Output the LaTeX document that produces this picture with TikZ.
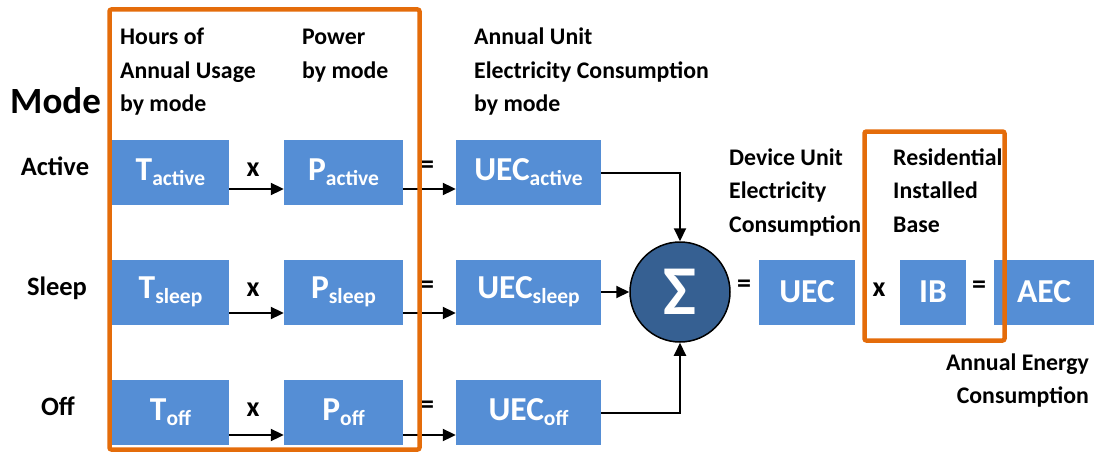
\documentclass[tikz,border=0pt]{standalone}
\usepackage{fontspec}
\setmainfont{Carlito}
\usetikzlibrary{arrows.meta}
\definecolor{boxblue}{RGB}{85,142,213}
\definecolor{sigblue}{RGB}{54,96,146}
\definecolor{frameorange}{RGB}{228,108,10}
\newcommand\mysub[1]{\raisebox{-5pt}{\fontsize{21.5}{21.5}\selectfont #1}}
\begin{document}
\begin{tikzpicture}[x=1pt,y=-1pt,
  box/.style={fill=boxblue, draw=none, text=white, inner sep=0,
    font=\bfseries\fontsize{33.5}{33.5}\selectfont, minimum height=65pt},
  arr/.style={-{Triangle[length=13pt,width=12pt]}, line width=2pt},
  lab/.style={font=\bfseries\fontsize{23.8}{23.8}\selectfont, inner sep=0, anchor=base west},
  labr/.style={lab, anchor=base east},
  modelab/.style={font=\bfseries\fontsize{26.5}{26.5}\selectfont, inner sep=0, anchor=base},
  op/.style={font=\bfseries\fontsize{28}{28}\selectfont, inner sep=0},
  frame/.style={draw=frameorange, line width=4.5pt, rounded corners=2pt}]
\useasboundingbox (0,0) rectangle (1094,452);
% headings
\node[font=\bfseries\fontsize{37}{37}\selectfont, inner sep=0, anchor=base west] (mode) at (10,113) {Mode};
\node[modelab] (lact) at (55,175) {Active};
\node[modelab] (lslp) at (57,295) {Sleep};
\node[modelab] (loff) at (58,415) {Off};
\node[lab] (h1a) at (120,45) {Hours of};
\node[lab] (h1b) at (120,78) {Annual Usage};
\node[lab] (h1c) at (120,111) {by mode};
\node[lab] (h2a) at (302,45) {Power};
\node[lab] (h2b) at (302,78) {by mode};
\node[lab] (h3a) at (474,45) {Annual Unit};
\node[lab] (h3b) at (474,78) {Electricity Consumption};
\node[lab] (h3c) at (474,111) {by mode};
\node[lab] (h4a) at (729,165) {Device Unit};
\node[lab] (h4b) at (729,198) {Electricity};
\node[lab] (h4c) at (729,232) {Consumption};
\node[lab] (h5a) at (893,165) {Residential};
\node[lab] (h5b) at (893,198) {Installed};
\node[lab] (h5c) at (893,232) {Base};
\node[labr] (h6a) at (1089,370) {Annual Energy};
\node[labr] (h6b) at (1089,403) {Consumption};
% boxes
\node[box, minimum width=117pt] (Ta) at (170.5,172.5) {T\mysub{active}};
\node[box, minimum width=119pt] (Pa) at (343.5,172.5) {P\mysub{active}};
\node[box, minimum width=145pt] (Ua) at (528.5,172.5) {UEC\mysub{active}};
\node[box, minimum width=117pt] (Ts) at (170.5,292) {T\mysub{sleep}};
\node[box, minimum width=119pt] (Ps) at (343.5,292) {P\mysub{sleep}};
\node[box, minimum width=145pt] (Us) at (528.5,292) {UEC\mysub{sleep}};
\node[box, minimum width=117pt] (To) at (170.5,412.5) {T\mysub{off}};
\node[box, minimum width=119pt] (Po) at (343.5,412.5) {P\mysub{off}};
\node[box, minimum width=145pt] (Uo) at (528.5,412.5) {UEC\mysub{off}};
\node[circle, fill=sigblue, draw=black, line width=1.5pt, minimum size=100pt, inner sep=0,
  text=white, font=\bfseries\fontsize{70}{70}\selectfont] (S) at (680,292) {Σ};
\node[box, minimum width=96pt] (U) at (807,292) {UEC};
\node[box, minimum width=66pt] (IB) at (933,292) {IB};
\node[box, minimum width=100pt] (AEC) at (1044,292) {AEC};
% operators
\node[op, anchor=base] (xa) at (253,176) {x};
\node[op, anchor=base] (xs) at (253,296) {x};
\node[op, anchor=base] (xo) at (253,416) {x};
\node[op] (ea) at (427,167) {=};
\node[op] (es) at (427,287) {=};
\node[op] (eo) at (427,407) {=};
\node[op] (e1) at (744,286) {=};
\node[op, anchor=base] (x1) at (879,296) {x};
\node[op] (e2) at (979,287) {=};
% arrows
\draw[arr] ([yshift=-16.5pt]Ta.east) -- ([yshift=-16.5pt]Pa.west);
\draw[arr] ([yshift=-16.5pt]Pa.east) -- ([yshift=-16.5pt]Ua.west);
\draw[arr] ([yshift=-21pt]Ts.east) -- ([yshift=-21pt]Ps.west);
\draw[arr] ([yshift=-21pt]Ps.east) -- ([yshift=-21pt]Us.west);
\draw[arr] ([yshift=-22.5pt]To.east) -- ([yshift=-22.5pt]Po.west);
\draw[arr] ([yshift=-22.5pt]Po.east) -- ([yshift=-22.5pt]Uo.west);
\draw[arr] (Ua.east) -| (S.north);
\draw[arr] (Us.east) -- (S.west);
\draw[arr] (Uo.east) -| (S.south);
% frames
\draw[frame] (109.5,9.5) rectangle (419.5,449.5);
\draw[frame] (864.5,131.5) rectangle (1004.5,340.5);
\end{tikzpicture}
\end{document}
